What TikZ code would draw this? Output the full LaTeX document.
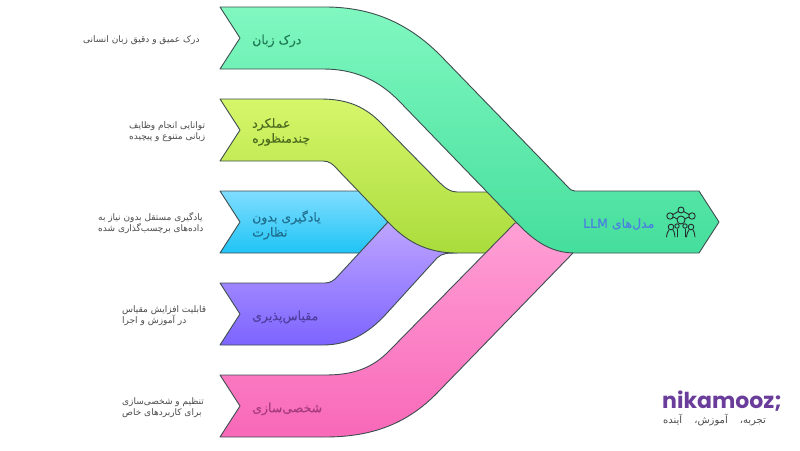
\documentclass[tikz,border=0pt]{standalone}
\usepackage{fontspec}
\usepackage{xcolor}
\setmainfont{DejaVu Sans}
\newfontfamily\farsi[Script=Arabic]{DejaVu Sans}
\newfontfamily\farsimed[Script=Arabic,FakeBold=0.35]{DejaVu Sans}
\newfontfamily\logofont{Poppins}
\TeXXeTstate=1
\newcommand{\fa}[1]{\beginR #1\endR}
\definecolor{edgegray}{HTML}{3E4E50}
\definecolor{notegray}{HTML}{4A4A4A}
\definecolor{logopurple}{HTML}{6A3D9A}

\begin{document}
\begin{tikzpicture}[x=1pt, y=-1pt,
    ribbon/.style={draw=edgegray, line width=0.9pt, line join=round},
    title/.style={anchor=west, align=left, font=\farsimed\fontsize{12.5}{15}\selectfont, inner sep=0pt},
    note/.style={anchor=west, align=left, font=\farsi\fontsize{9}{11}\selectfont, text=notegray, inner sep=0pt},
    icon/.style={draw=edgegray!60!black, line width=0.9pt, line cap=round}]

    \useasboundingbox (0,0) rectangle (800,450);

    % bands, back to front
    \draw[ribbon, top color={rgb,255:red,128;green,221;blue,255}, bottom color={rgb,255:red,31;green,196;blue,245}]
        (220,191) -- (360,191) -- (388,222) -- (360,253) -- (220,253) -- (240,222) -- cycle;
    \draw[ribbon, top color={rgb,255:red,190;green,165;blue,255}, bottom color={rgb,255:red,125;green,100;blue,255}]
        (220,283) -- (325,283) .. controls (331,283) and (334,280) .. (337,277)
        -- (388,222) -- (457,222) -- (457,253) .. controls (448,253) and (442,253) .. (437,258)
        -- (387,313) .. controls (368,334) and (348,345) .. (323,345)
        -- (220,345) -- (240,314) -- cycle;
    \draw[ribbon, top color={rgb,255:red,214;green,246;blue,106}, bottom color={rgb,255:red,170;green,220;blue,60}]
        (220,99) -- (320,99) .. controls (343,99) and (362,104) .. (380,122)
        -- (437,180) .. controls (445,188) and (450,192) .. (457,192)
        -- (530,192) -- (530,253) -- (457,253) .. controls (425,253) and (405,240) .. (388,222)
        -- (338,170) .. controls (333,164) and (329,161) .. (323,161)
        -- (220,161) -- (240,130) -- cycle;
    \draw[ribbon, top color={rgb,255:red,255;green,160;blue,214}, bottom color={rgb,255:red,248;green,104;blue,184}]
        (220,375) -- (325,375) .. controls (352,375) and (372,369) .. (390,350)
        -- (515,223) -- (573,223) -- (573,253)
        -- (440,390) .. controls (410,422) and (375,437) .. (325,437)
        -- (220,437) -- (240,406) -- cycle;
    \draw[ribbon, top color={rgb,255:red,128;green,248;blue,192}, bottom color={rgb,255:red,69;green,222;blue,156}]
        (220,7) -- (325,7) .. controls (370,7) and (407,22) .. (440,55)
        -- (568,187) .. controls (571,190) and (572,191) .. (575,191)
        -- (699,191) -- (719,222) -- (699,253) -- (575,253)
        .. controls (552,253) and (535,242) .. (517,223)
        -- (400,102) .. controls (378,79) and (353,69) .. (323,69)
        -- (220,69) -- (240,38) -- cycle;

    % band titles
    \node[title, text={rgb,255:red,31;green,122;blue,85}] (tdark) at (252,41) {\fa{درک زبان}};
    \node[title, text={rgb,255:red,76;green,107;blue,31}] (tmulti) at (252,132) {\fa{عملکرد}\\\fa{چندمنظوره}};
    \node[title, text={rgb,255:red,31;green,111;blue,143}] (tfree) at (252,225) {\fa{یادگیری بدون}\\\fa{نظارت}};
    \node[title, text={rgb,255:red,79;green,63;blue,159}] (tscale) at (252,317) {\fa{مقیاس‌پذیری}};
    \node[title, text={rgb,255:red,168;green,60;blue,128}] (tcustom) at (252,409) {\fa{شخصی‌سازی}};
    \node[title, text={rgb,255:red,74;green,128;blue,224}] (tllm) at (583,224) {\fa{مدل‌های \beginL LLM\endL}};

    % side notes
    \node[note] (ndark) at (83,40) {\fa{درک عمیق و دقیق زبان انسانی}};
    \node[note] (nmulti) at (129,131.5) {\fa{توانایی انجام وظایف}\\\fa{زبانی متنوع و پیچیده}};
    \node[note] (nfree) at (98,223.5) {\fa{یادگیری مستقل بدون نیاز به}\\\fa{داده‌های برچسب‌گذاری شده}};
    \node[note] (nscale) at (122,315.5) {\fa{قابلیت افزایش مقیاس}\\\fa{در آموزش و اجرا}};
    \node[note] (ncustom) at (122,407.5) {\fa{تنظیم و شخصی‌سازی}\\\fa{برای کاربردهای خاص}};

    % people icon
    \foreach \px/\py/\pr in {681/210/3, 670/216/3.2, 692/216/3.2, 681/220/4, 671/227/2.8, 691/227/2.8, 677/226/2.2, 685/226/2.2}
        \draw[icon] (\px,\py) circle (\pr);
    \draw[icon] (673,214.5) -- (678.3,211.5) (683.7,211.5) -- (689,214.5) (673.2,217) -- (677,218.8) (685,218.8) -- (688.8,217);
    \foreach \bx in {671,691}
        \draw[icon] (\bx-4.5,237) .. controls (\bx-4,233) and (\bx-3,231) .. (\bx-2,230)
            (\bx+4,237) .. controls (\bx+3.5,233) and (\bx+3,231) .. (\bx+2,230);
    \foreach \bx in {677,685}
        \draw[icon] (\bx,229) -- (\bx,237);

    % logo
    \node[anchor=west, inner sep=0pt, text=logopurple, font=\logofont\bfseries\fontsize{22}{22}\selectfont] (logoname) at (662,401) {nikamooz;};
    \node[anchor=west, inner sep=0pt, text=notegray, font=\farsi\fontsize{10}{11}\selectfont] (logotag) at (663,420) {\fa{تجربه،\hspace{12pt}آموزش،\hspace{12pt}آینده}};
\end{tikzpicture}
\end{document}
